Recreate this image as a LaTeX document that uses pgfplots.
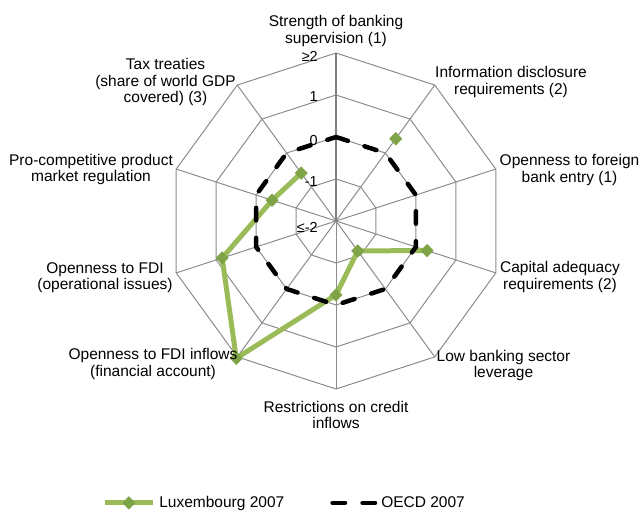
\documentclass[border=0pt]{standalone}
\usepackage{fontspec}
\setmainfont{Liberation Sans}
\usepackage{pgfplots}
\usepackage{pgfplotstable}
\usepgfplotslibrary{polar}
\pgfplotsset{compat=1.18}
\definecolor{lux}{HTML}{9BBB59}
\definecolor{luxmark}{HTML}{7FA447}
\definecolor{gridc}{HTML}{8C8C8C}
\definecolor{axisc}{HTML}{808080}

\pgfplotsset{
  luxlegend/.style={legend image code/.code={\draw[mark repeat=2,mark phase=2,##1] plot coordinates {(0bp,0bp)(24bp,0bp)(48bp,0bp)};}},
  oecdlegend/.style={legend image code/.code={\draw[##1] (0bp,0bp) -- (42.5bp,0bp);}},
}

% angle (deg, clockwise from top) and value (scale -2 .. 2)
\pgfplotstableread{
ang v
90 nan
54 0.42
18 nan
342 0.28
306 -1.12
270 -0.24
234 2.04
198 0.85
162 -0.40
126 -0.59
}\luxdata
\pgfplotstableread{
ang v
90 0
54 0
18 0
342 0
306 0
270 0
234 0
198 0
162 0
126 0
90 0
}\oecddata

\begin{document}
\begin{tikzpicture}[x=1bp,y=1bp,font=\fontsize{15.5bp}{16.5bp}\selectfont]
\path[use as bounding box] (0,0) rectangle (642,511);
\begin{polaraxis}[
  at={(336bp,290bp)}, anchor=center,
  width=336bp, height=336bp, scale only axis,
  xmin=0, xmax=360, ymin=0, ymax=4,
  hide axis, clip=false,
  unbounded coords=jump,
  legend columns=2,
  legend style={at={(-0.196,-0.339)}, anchor=west, draw=none, fill=none,
    inner sep=0pt, font=\fontsize{15.5bp}{16.5bp}\selectfont,
    nodes={inner xsep=4bp, inner ysep=0pt},
    /tikz/every even column/.append style={column sep=42bp}},
]
% grid rings
\addplot[gridc, line width=1bp, forget plot] coordinates {(90,4)(54,4)(18,4)(342,4)(306,4)(270,4)(234,4)(198,4)(162,4)(126,4)(90,4)};
\addplot[gridc, line width=1bp, forget plot] coordinates {(90,3)(54,3)(18,3)(342,3)(306,3)(270,3)(234,3)(198,3)(162,3)(126,3)(90,3)};
\addplot[gridc, line width=1bp, forget plot] coordinates {(90,2)(54,2)(18,2)(342,2)(306,2)(270,2)(234,2)(198,2)(162,2)(126,2)(90,2)};
\addplot[gridc, line width=1bp, forget plot] coordinates {(90,1)(54,1)(18,1)(342,1)(306,1)(270,1)(234,1)(198,1)(162,1)(126,1)(90,1)};
% spokes
\addplot[gridc, line width=1bp, forget plot] coordinates {(90,4)(270,4)};
\addplot[gridc, line width=1bp, forget plot] coordinates {(54,4)(234,4)};
\addplot[gridc, line width=1bp, forget plot] coordinates {(18,4)(198,4)};
\addplot[gridc, line width=1bp, forget plot] coordinates {(342,4)(162,4)};
\addplot[gridc, line width=1bp, forget plot] coordinates {(306,4)(126,4)};
\addplot[axisc, line width=1.4bp, forget plot] coordinates {(90,0)(90,4)};

\addplot[lux, line width=5bp, line join=round,
  mark=diamond*, mark size=6.3bp,
  mark options={fill=luxmark, draw=luxmark, line width=0.5bp, solid, xscale=1.3},
  luxlegend]
  table[x=ang, y expr=\thisrow{v}+2] {\luxdata};
\addlegendentry{Luxembourg 2007}

\addplot[black, line width=4.5bp, line cap=round, line join=round,
  dash pattern=on 12.5bp off 17.5bp, oecdlegend]
  table[x=ang, y expr=\thisrow{v}+2] {\oecddata};
\addlegendentry{OECD 2007}
\end{polaraxis}

% category labels
\node[align=center] at (336,480) {Strength of banking\\supervision (1)};
\node[align=center] at (511,429) {Information disclosure\\requirements (2)};
\node[align=center] at (569.5,341) {Openness to foreign\\bank entry (1)};
\node[align=center] at (560,234) {Capital adequacy\\requirements (2)};
\node[align=center] at (503.5,145.5) {Low banking sector\\leverage};
\node[align=center] at (336,96) {Restrictions on credit\\inflows};
\node[align=center] at (153,147) {Openness to FDI inflows\\(financial account)};
\node[align=center] at (105,233.5) {Openness to FDI\\(operational issues)};
\node[align=center] at (91,341.5) {Pro-competitive product\\market regulation};
\node[align=center] at (165.5,429) {Tax treaties\\(share of world GDP\\covered) (3)};

% value labels
\begin{scope}[font=\fontsize{14.5bp}{16bp}\selectfont]
\node[anchor=east, inner sep=0pt] at (318,455) {≥2};
\node[anchor=east, inner sep=0pt] at (318,414) {1};
\node[anchor=east, inner sep=0pt] at (318,370) {0};
\node[anchor=east, inner sep=0pt] at (318,329) {-1};
\node[anchor=east, inner sep=0pt] at (318,284) {≤-2};
\end{scope}
\end{tikzpicture}
\end{document}
